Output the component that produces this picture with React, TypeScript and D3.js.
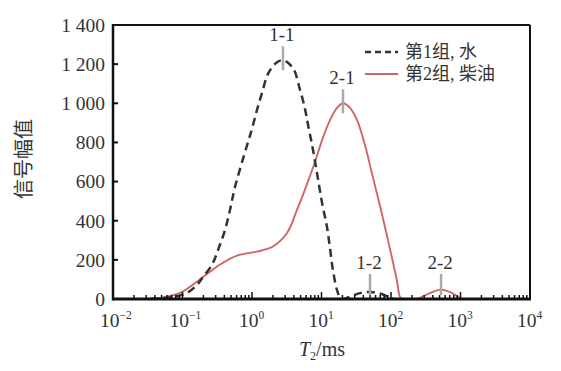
import React from "react";
import * as d3 from "d3";

const waterT2 = [0.034, 0.073, 0.116, 0.162, 0.197, 0.266, 0.324, 0.409, 0.482, 0.569, 0.848, 1.0, 1.18, 1.39, 1.7, 2.2, 2.79, 3.89, 4.91, 5.8, 6.4, 7.3, 8.61, 10.2, 12.0, 13.3, 14.6, 16.7, 18.5, 20.4, 25.7, 35.8, 49.9, 69.5, 90.6, 110, 150];
const waterAmp = [0, 10, 31, 72, 112, 175, 250, 353, 455, 572, 785, 870, 966, 1052, 1150, 1205, 1220, 1180, 1068, 970, 890, 790, 644, 490, 368, 255, 148, 46, 8, 0, 12, 30, 36, 28, 12, 0, 0];
const oilT2 = [0.02, 0.034, 0.047, 0.092, 0.197, 0.347, 0.609, 1.18, 2.0, 3.19, 4.44, 5.8, 6.84, 8.06, 10.2, 13.3, 16.6, 20.4, 25.5, 32.4, 42.3, 53.3, 69.5, 96.8, 122, 135, 149, 200, 237, 339, 525, 755, 1047, 1400];
const oilAmp = [0, 0, 5, 31, 112, 176, 222, 242, 268, 337, 455, 560, 630, 700, 812, 915, 975, 1000, 978, 915, 785, 640, 475, 255, 92, 10, 0, 0, 0, 25, 48, 30, 0, 0];
const peakLabels = ["1-1", "2-1", "1-2", "2-2"];
const peakT2 = [2.79, 20.4, 49.9, 525];
const peakAmp = [1220, 1000, 36, 48];
const yTicks = [0, 200, 400, 600, 800, 1000, 1200, 1400];
const yTickLabels = ["0", "200", "400", "600", "800", "1 000", "1 200", "1 400"];
const xExps = [-2, -1, 0, 1, 2, 3, 4];
const legendLabels = ["第1组, 水", "第2组, 柴油"];

const W = 561, H = 371;
const L = 113, R = 530, T = 25, B = 299;
const RED = "#cf6567";
const TXT = "#333";
const FONT = "'Liberation Serif', 'Noto Sans CJK SC', serif";

export default function App() {
  const x = d3.scaleLog().domain([1e-2, 1e4]).range([L, R]);
  const y = d3.scaleLinear().domain([0, 1400]).range([B, T]);
  const line = d3.line<[number, number]>().x(d => x(d[0])).y(d => y(d[1])).curve(d3.curveCatmullRom.alpha(0.5));
  const water = line(waterT2.map((t, i) => [t, waterAmp[i]]));
  const oil = line(oilT2.map((t, i) => [t, oilAmp[i]]));
  const minor: number[] = [];
  for (let e = -2; e < 4; e++) for (let k = 2; k <= 9; k++) minor.push(k * Math.pow(10, e));

  return (
    <svg width={W} height={H} style={{ position: "absolute", left: 0, top: 0, background: "#fff" }} fontFamily={FONT}>
      <defs>
        <clipPath id="plotClip">
          <rect x={L} y={T - 10} width={R - L} height={B - T + 10} />
        </clipPath>
      </defs>
      <rect x={0} y={0} width={W} height={H} fill="#fff" />
      {/* curves */}
      <g clipPath="url(#plotClip)">
        <path d={oil || ""} fill="none" stroke={RED} strokeWidth={1.9} />
        <path d={water || ""} fill="none" stroke="#333" strokeWidth={2.5} strokeDasharray="8,5" />
      </g>
      {/* peak markers */}
      {peakLabels.map((lab, i) => {
        const px = x(peakT2[i]);
        const py = y(peakAmp[i]);
        const big = peakAmp[i] > 500;
        const top = big ? py - 14 : 274;
        const bot = big ? py + 10 : 295;
        return (
          <g key={lab}>
            <line x1={px} x2={px} y1={top} y2={bot} stroke="#aaa" strokeWidth={2.5} />
            <text x={px - 1} y={top - 5} textAnchor="middle" fontSize={19} fill={TXT}>{lab}</text>
          </g>
        );
      })}
      {/* frame */}
      <line x1={L} x2={R} y1={T} y2={T} stroke="#111" strokeWidth={2} />
      <line x1={R} x2={R} y1={T} y2={B} stroke="#111" strokeWidth={2} />
      <line x1={L} x2={L} y1={T - 1} y2={B + 1.5} stroke="#111" strokeWidth={2.5} />
      <line x1={L} x2={R + 1} y1={B} y2={B} stroke="#111" strokeWidth={3} />
      {/* y ticks */}
      {yTicks.map((v, i) => (
        <g key={v}>
          <line x1={L} x2={L + 5} y1={y(v)} y2={y(v)} stroke="#111" strokeWidth={2} />
          <text x={L - 8} y={y(v)} dy="0.35em" textAnchor="end" fontSize={19.5} fill={TXT}>{yTickLabels[i]}</text>
        </g>
      ))}
      {/* x ticks */}
      {minor.map(v => (
        <line key={v} x1={x(v)} x2={x(v)} y1={B} y2={B - 4} stroke="#111" strokeWidth={1.5} />
      ))}
      {xExps.map(e => (
        <g key={e}>
          <line x1={x(Math.pow(10, e))} x2={x(Math.pow(10, e))} y1={B} y2={B - 7} stroke="#111" strokeWidth={1.5} />
          <text x={x(Math.pow(10, e)) - 13} y={327} textAnchor="start" fontSize={19.5} fill={TXT}>
            10<tspan dy={-8} fontSize={11.5}>{e < 0 ? "\u2212" + Math.abs(e) : String(e)}</tspan>
          </text>
        </g>
      ))}
      {/* axis titles */}
      <text x={322} y={356} textAnchor="middle" fontSize={20} fill={TXT}>
        <tspan fontStyle="italic">T</tspan><tspan dy={4} fontSize={12}>2</tspan><tspan dy={-4}>/ms</tspan>
      </text>
      <text transform={`translate(24,159) rotate(-90)`} textAnchor="middle" fontSize={20} fill={TXT} dy="0.35em">信号幅值</text>
      {/* legend */}
      <line x1={365} x2={398} y1={52} y2={52} stroke="#333" strokeWidth={2.3} strokeDasharray="6,4" />
      <text x={405} y={52} dy="0.35em" fontSize={18} fill={TXT}>{legendLabels[0]}</text>
      <line x1={365} x2={398} y1={74} y2={74} stroke={RED} strokeWidth={1.9} />
      <text x={405} y={74} dy="0.35em" fontSize={18} fill={TXT}>{legendLabels[1]}</text>
    </svg>
  );
}
